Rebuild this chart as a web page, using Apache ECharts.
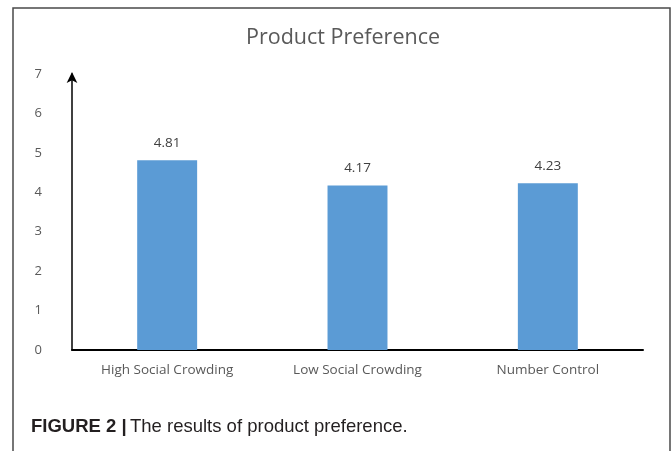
<!DOCTYPE html>
<html>
<head>
<meta charset="utf-8">
<script src="https://cdn.jsdelivr.net/npm/echarts@6/dist/echarts.min.js"></script>
<style>html,body{margin:0;padding:0;background:#fff;}#c{width:672px;height:451px;}</style>
</head>
<body>
<div id="c"></div>
<script>
const categories = ['High Social Crowding', 'Low Social Crowding', 'Number Control'];
const values = [4.81, 4.17, 4.23];
const yTicks = [0, 1, 2, 3, 4, 5, 6, 7];
const titleText = 'Product Preference';
const captionBold = 'FIGURE 2 |';
const captionText = 'The results of product preference.';

const chart = echarts.init(document.getElementById('c'));
chart.setOption({
  animation: false,
  backgroundColor: '#fff',
  grid: { left: 72, right: 29, top: 74, bottom: 101 },
  xAxis: {
    type: 'category', data: categories,
    axisLine: { lineStyle: { color: '#000', width: 2 } },
    axisTick: { show: false },
    axisLabel: { fontFamily: 'Open Sans', fontSize: 13.5, color: '#595959', margin: 13 }
  },
  yAxis: {
    type: 'value', min: yTicks[0], max: yTicks[yTicks.length - 1], interval: 1,
    axisLine: { show: true, symbol: ['none', 'arrow'], symbolSize: [8, 11], symbolOffset: [0, 2], lineStyle: { color: '#000', width: 1.5 } },
    axisTick: { show: false },
    splitLine: { show: false },
    axisLabel: { fontFamily: 'Open Sans', fontSize: 13, color: '#595959', margin: 30 }
  },
  series: [{
    type: 'bar', data: values, barWidth: '31.5%',
    itemStyle: { color: '#5B9BD5' },
    label: { show: true, position: 'top', distance: 10, fontFamily: 'Open Sans', fontSize: 13.5, color: '#404040',
      formatter: p => p.value.toFixed(2) }
  }],
  graphic: [
    { type: 'polyline', shape: { points: [[13, 451], [13, 8], [670, 8], [670, 451]] },
      style: { stroke: '#4a4a4a', lineWidth: 1.5, fill: null } },
    { type: 'text', x: 343, y: 38,
      style: { text: titleText, textAlign: 'center', textVerticalAlign: 'middle',
        fontFamily: 'Open Sans', fontSize: 21.5, fill: '#595959' } },
    { type: 'text', x: 31, y: 427,
      style: { text: '{b|' + captionBold + '} {n|' + captionText + '}', textVerticalAlign: 'middle',
        rich: {
          b: { fontFamily: 'Liberation Sans', fontWeight: 'bold', fontSize: 18.5, fill: '#231f20' },
          n: { fontFamily: 'Liberation Sans', fontSize: 18.5, fill: '#231f20' }
        } } }
  ]
});
</script>
</body>
</html>
